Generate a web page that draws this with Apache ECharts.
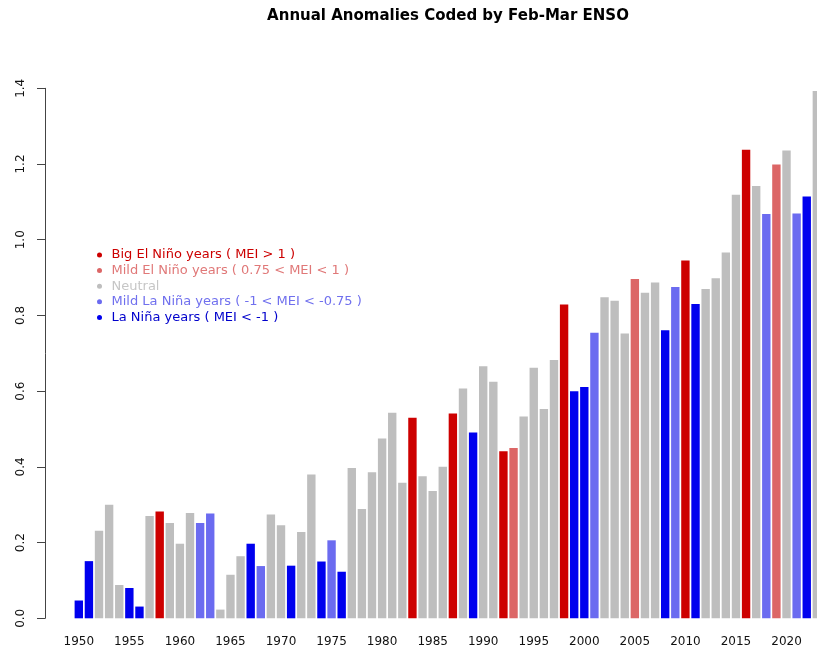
<!DOCTYPE html>
<html><head><meta charset="utf-8">
<script src="https://cdn.jsdelivr.net/npm/echarts@6/dist/echarts.min.js"></script>
<style>html,body{margin:0;padding:0;background:#fff;overflow:hidden}#c{width:817px;height:652px}</style>
</head><body><div id="c"></div>
<script>
const years = ['1950','1951','1952','1953','1954','1955','1956','1957','1958','1959',
'1960','1961','1962','1963','1964','1965','1966','1967','1968','1969',
'1970','1971','1972','1973','1974','1975','1976','1977','1978','1979',
'1980','1981','1982','1983','1984','1985','1986','1987','1988','1989',
'1990','1991','1992','1993','1994','1995','1996','1997','1998','1999',
'2000','2001','2002','2003','2004','2005','2006','2007','2008','2009',
'2010','2011','2012','2013','2014','2015','2016','2017','2018','2019',
'2020','2021','2022','2023'];
const anomalies = [0.047,0.151,0.231,0.300,0.088,0.080,0.031,0.270,0.282,0.252,
0.197,0.278,0.252,0.277,0.023,0.115,0.164,0.197,0.138,0.274,
0.246,0.139,0.228,0.380,0.150,0.206,0.123,0.397,0.289,0.386,
0.475,0.543,0.358,0.530,0.375,0.336,0.400,0.541,0.607,0.491,
0.666,0.625,0.441,0.450,0.533,0.662,0.553,0.682,0.829,0.600,
0.611,0.754,0.848,0.839,0.752,0.896,0.860,0.887,0.761,0.875,
0.945,0.830,0.870,0.898,0.966,1.119,1.238,1.142,1.068,1.199,
1.236,1.069,1.114,1.393];
const ensoClass = ['LN','LN','N','N','N','LN','LN','N','BEN','N',
'N','N','MLN','MLN','N','N','N','LN','MLN','N',
'N','LN','N','N','LN','MLN','LN','N','N','N',
'N','N','N','BEN','N','N','N','BEN','N','LN',
'N','N','BEN','MEN','N','N','N','N','BEN','LN',
'LN','MLN','N','N','N','MEN','N','N','LN','MLN',
'BEN','LN','N','N','N','N','BEN','N','MLN','MEN',
'N','MLN','LN','N'];
const classKeys = ['BEN','MEN','N','MLN','LN'];
const classNames = ['Big El Niño years ( MEI > 1 )','Mild El Niño years ( 0.75 < MEI < 1 )','Neutral','Mild La Niña years ( -1 < MEI < -0.75 )','La Niña years ( MEI < -1 )'];
const classColors = ['#cd0000','#dc6666','#bebebe','#6b6bf0','#0000ee'];
const legendTextColors = ['#cc0000','#e07878','#c6c6c6','#7070ee','#0000cc'];
const titleText = 'Annual Anomalies Coded by Feb-Mar ENSO';

const chart = echarts.init(document.getElementById('c'), null, {renderer:'canvas'});
const series = classKeys.map((k,i)=>({
  name: classNames[i], type:'bar', barGap:'-100%', barCategoryGap:'17%',
  itemStyle:{color:classColors[i]},
  emphasis:{disabled:true},
  data: anomalies.map((v,j)=> ensoClass[j]===k ? v : '-')
}));
chart.setOption({
  animation:false,
  backgroundColor:'#ffffff',
  textStyle:{fontFamily:'DejaVu Sans'},
  graphic:[{type:'text', style:{text:titleText, x:448, y:16, align:'center', verticalAlign:'middle',
    font:'bold 15px "DejaVu Sans"', fill:'#000'}}],
  legend:{
    orient:'vertical', left:97, top:247.2, padding:0, itemGap:0,
    itemWidth:14, itemHeight:5, icon:'circle', selectedMode:false,
    textStyle:{fontSize:13, lineHeight:15.6, fontFamily:'DejaVu Sans'},
    data: classNames.map((n,i)=>({name:n, textStyle:{color:legendTextColors[i]}}))
  },
  grid:{left:73.75, right:-4.9, top:88.3, bottom:33.7, outerBoundsMode:'none', containLabel:false},
  xAxis:{type:'category', data:years,
    axisLine:{show:false}, axisTick:{show:false},
    axisLabel:{color:'#111', fontSize:12, margin:18, interval:(i,v)=> (+v)%5===0 }},
  yAxis:{type:'value', min:0, max:1.4, interval:0.2, offset:28.75,
    splitLine:{show:false},
    axisLine:{show:true, lineStyle:{color:'#444', width:1}},
    axisTick:{show:true, length:8, lineStyle:{color:'#444'}},
    axisLabel:{color:'#111', fontSize:12, rotate:90, margin:18, formatter:v=>v.toFixed(1)}},
  series: series
});
</script></body></html>
